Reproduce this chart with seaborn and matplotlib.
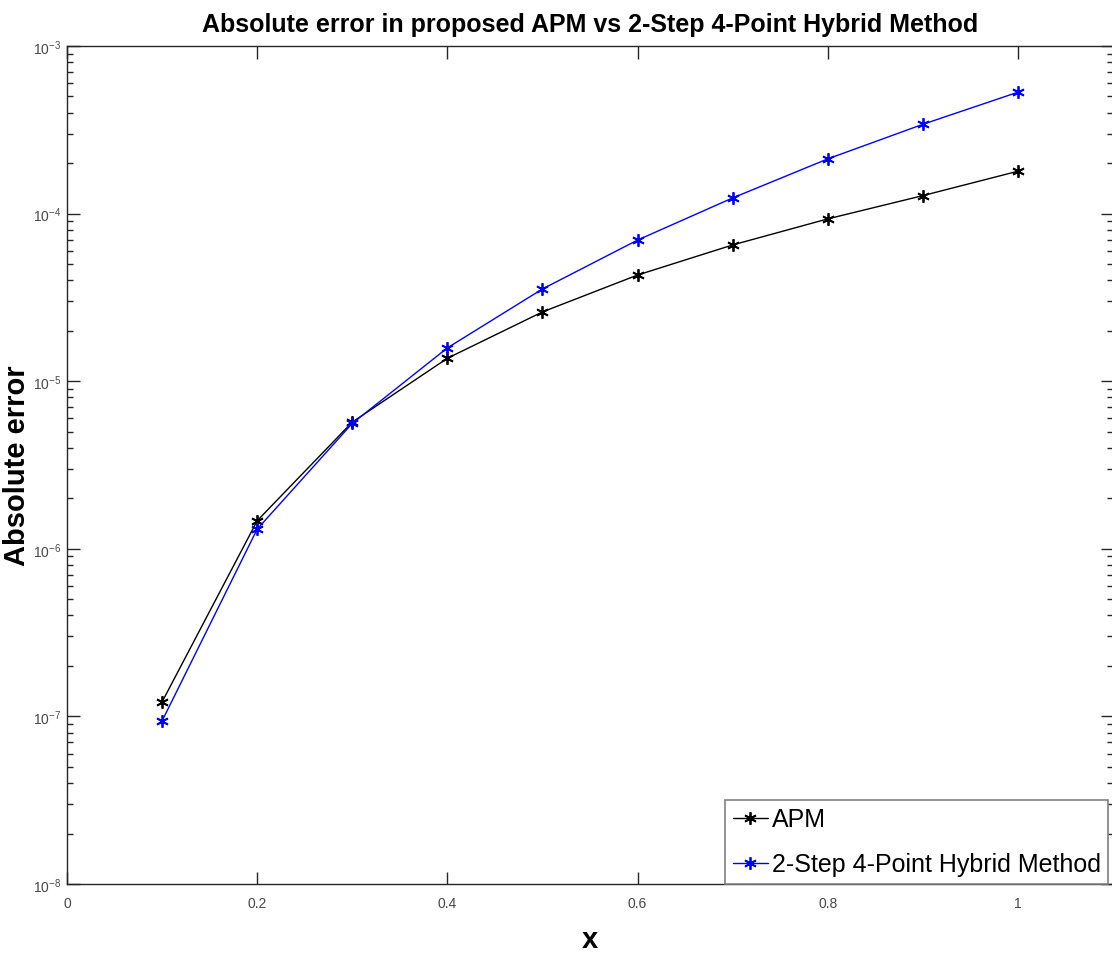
import numpy as np
import pandas as pd
import matplotlib
matplotlib.use("Agg")
import matplotlib.pyplot as plt
import seaborn as sns
from matplotlib.ticker import LogLocator, FixedLocator

x_vals = [0.1, 0.2, 0.3, 0.4, 0.5, 0.6, 0.7, 0.8, 0.9, 1.0]
apm_err = [1.22e-7, 1.47e-6, 5.7e-6, 1.37e-5, 2.59e-5, 4.3e-5, 6.5e-5, 9.3e-5, 1.28e-4, 1.79e-4]
hybrid_err = [9.4e-8, 1.31e-6, 5.6e-6, 1.58e-5, 3.55e-5, 6.95e-5, 1.24e-4, 2.12e-4, 3.41e-4, 5.3e-4]
series_names = ["APM", "2-Step 4-Point Hybrid Method"]
series_colors = ["black", "blue"]
x_ticks = [0, 0.2, 0.4, 0.6, 0.8, 1.0]
x_ticklabels = ["0", "0.2", "0.4", "0.6", "0.8", "1"]

sns.set_style("ticks")
plt.rcParams['font.family'] = ['Liberation Sans', 'DejaVu Sans']
plt.rcParams['mathtext.fontset'] = 'custom'
plt.rcParams['mathtext.rm'] = 'Liberation Sans'
plt.rcParams['mathtext.default'] = 'regular'

fig = plt.figure(figsize=(11.12, 9.54), dpi=100)
ax = fig.add_axes([67/1112, 69/954, 1046/1112, 838/954])

df = pd.concat([
    pd.DataFrame({"x": x_vals, "err": apm_err, "series": series_names[0]}),
    pd.DataFrame({"x": x_vals, "err": hybrid_err, "series": series_names[1]}),
])

for name, col in zip(series_names, series_colors):
    sub = df[df["series"] == name]
    sns.lineplot(data=sub, x="x", y="err", ax=ax, color=col, linewidth=1.0,
                 marker=(6, 2, 0), markersize=9, markeredgewidth=1.3,
                 markeredgecolor=col, label=name)

ax.set_yscale("log")
ax.set_xlim(0, 1.1)
ax.set_ylim(1e-8, 1e-3)
ax.xaxis.set_major_locator(FixedLocator(x_ticks))
ax.set_xticklabels(x_ticklabels)
ax.yaxis.set_major_locator(LogLocator(base=10, numticks=10))
ax.yaxis.set_minor_locator(LogLocator(base=10, subs=np.arange(2, 10), numticks=100))

for s in ax.spines.values():
    s.set_color("#262626")
    s.set_linewidth(1.0)

ax.tick_params(axis="both", which="major", direction="in", length=9, width=1.0,
               top=True, right=True, labelsize=10, labelcolor="#474747", color="#262626")
ax.tick_params(axis="y", which="minor", direction="in", length=4.5, width=1.0,
               left=True, right=True, color="#262626")
ax.tick_params(axis="x", which="major", pad=9)
ax.tick_params(axis="y", which="major", pad=4)

ax.set_title("Absolute error in proposed APM vs 2-Step 4-Point Hybrid Method",
             fontsize=18, fontweight="bold", pad=11, color="black")
ax.set_xlabel("x", fontsize=21, fontweight="bold", color="black")
ax.xaxis.set_label_coords(0.5, -0.049)
ax.set_ylabel("Absolute error", fontsize=21, fontweight="bold", color="black")
ax.yaxis.set_label_coords(-0.0345, 0.5)

leg = ax.legend(loc="lower right", bbox_to_anchor=((1108 - 67) / 1046, 0.0),
                fontsize=18, frameon=True, fancybox=False,
                framealpha=1, edgecolor="#808080", borderpad=0.3,
                handlelength=1.4, handletextpad=0.15, labelspacing=0.85,
                borderaxespad=0.0, labelcolor="black")
leg.get_frame().set_linewidth(1.2)

fig.savefig("out.png", dpi=100)
